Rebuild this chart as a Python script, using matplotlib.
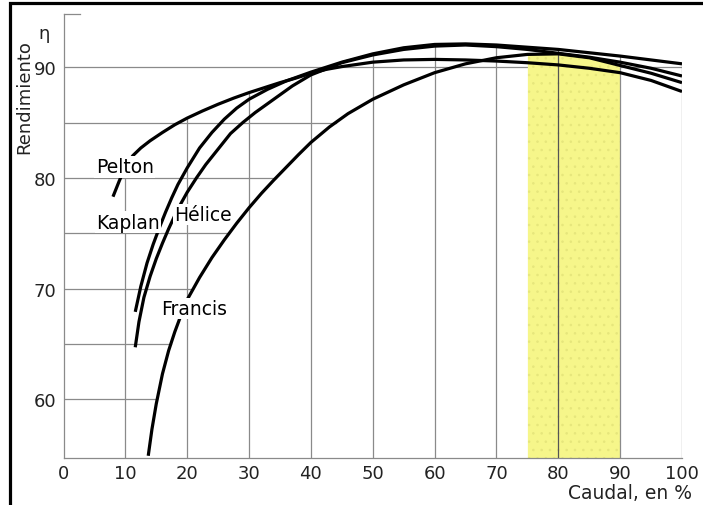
import numpy as np
import matplotlib
matplotlib.use("Agg")
import matplotlib.pyplot as plt
from matplotlib.patches import Rectangle

# Rendimiento (%) frente a caudal (%) de cada tipo de turbina
pelton_x = [8.0, 9.0, 10, 11.2, 12.5, 14, 16, 18, 20, 22.5, 25, 27.5, 30, 32.5, 35, 37.5, 40,
            42.5, 45, 50, 55, 60, 65, 70, 75, 80, 85, 90, 95, 100]
pelton_y = [78.3, 79.7, 81.0, 82.0, 82.7, 83.35, 84.1, 84.8, 85.4, 86.05, 86.65, 87.2, 87.7, 88.15,
            88.6, 89.0, 89.45, 89.8, 90.05, 90.45, 90.65, 90.7, 90.65, 90.55, 90.4, 90.2, 89.9,
            89.5, 88.8, 87.8]

kaplan_x = [11.6, 12.5, 13.5, 14.5, 15.5, 16.5, 17.5, 18.5, 20, 22, 24, 26, 28, 30, 33, 36, 40,
            45, 50, 55, 60, 65, 70, 75, 80, 85, 90, 95, 100]
kaplan_y = [67.9, 70.2, 72.3, 74.0, 75.5, 76.9, 78.2, 79.4, 80.9, 82.7, 84.1, 85.3, 86.3, 87.1,
            88.0, 88.75, 89.55, 90.45, 91.2, 91.75, 92.05, 92.1, 92.0, 91.8, 91.6, 91.3, 91.0,
            90.65, 90.3]

helice_x = [11.6, 12.2, 13, 14, 15, 16, 17, 18, 19, 20, 21.5, 23, 25, 27, 29, 31, 34, 37, 40,
            45, 50, 55, 60, 65, 70, 75, 80, 85, 90, 95, 100]
helice_y = [64.7, 67.0, 69.2, 71.1, 72.7, 74.1, 75.4, 76.6, 77.7, 78.7, 80.0, 81.2, 82.6, 84.0,
            85.0, 85.9, 87.1, 88.3, 89.3, 90.4, 91.1, 91.6, 91.9, 92.0, 91.85, 91.6, 91.25, 90.9,
            90.45, 89.9, 89.2]

francis_x = [13.7, 14.3, 15, 16, 17, 18, 19, 20, 22, 24, 26, 28, 30, 32, 34, 36, 38, 40, 43, 46,
             50, 55, 60, 65, 70, 75, 80, 85, 90, 95, 100]
francis_y = [54.9, 57.3, 59.6, 62.3, 64.4, 66.1, 67.6, 69.0, 71.0, 72.8, 74.4, 75.9, 77.3, 78.6,
             79.8, 80.95, 82.1, 83.2, 84.6, 85.8, 87.1, 88.4, 89.5, 90.3, 90.85, 91.15, 91.2,
             90.85, 90.15, 89.45, 88.6]

curves = {
    "Pelton": (pelton_x, pelton_y),
    "Kaplan": (kaplan_x, kaplan_y),
    "Hélice": (helice_x, helice_y),
    "Francis": (francis_x, francis_y),
}
# posicion de las etiquetas (x %, rendimiento)
label_pos = {
    "Pelton": (9.9, 81.0),
    "Kaplan": (10.4, 76.0),
    "Hélice": (22.6, 76.7),
    "Francis": (21.1, 68.2),
}

x_ticks = list(range(0, 101, 10))
y_ticks = [60, 70, 80, 90]
h_grid = [60, 65, 70, 75, 80, 85]
zona = (75, 90)

ymin, ymax = 54.7, 94.8
gris = "#8a8a8a"

fig = plt.figure(figsize=(7.03, 5.06), dpi=100)
ax = fig.add_axes([63.5 / 703, 1 - 459 / 506, (682 - 63.5) / 703, (459 - 15) / 506])
ax.set_xlim(0, 100)
ax.set_ylim(ymin, ymax)

# zona sombreada amarilla hasta la curva Francis
fx = np.array(francis_x)
fy = np.array(francis_y)
sel = (fx >= zona[0]) & (fx <= zona[1])
plt.rcParams["hatch.linewidth"] = 0.6
ax.fill_between(fx[sel], ymin, fy[sel], color="#f6f68a", lw=0, zorder=2)
ax.fill_between(fx[sel], ymin, fy[sel], facecolor="none", edgecolor="#e6e67c",
                hatch="..", lw=0, zorder=2)

# linea de 90 a todo lo ancho
ax.plot([0, 100], [90, 90], color=gris, lw=0.9, zorder=1)

# lineas horizontales hasta la curva Francis
rise = fy <= 89
for lev in h_grid:
    xe = np.interp(lev, fy[rise], fx[rise])
    ax.plot([0, xe], [lev, lev], color=gris, lw=0.9, zorder=3)

# lineas verticales hasta la envolvente superior
for xv in x_ticks[1:]:
    tops = [np.interp(xv, cx, cy) for cx, cy in curves.values() if cx[0] <= xv <= cx[-1]]
    col = "#555555" if zona[0] < xv < zona[1] else gris
    ax.plot([xv, xv], [ymin, max(tops)], color=col, lw=0.9, zorder=3)

for name, (cx, cy) in curves.items():
    ax.plot(cx, cy, color="black", lw=2.3, solid_capstyle="butt",
            solid_joinstyle="round", zorder=4)
    lx, ly = label_pos[name]
    ax.text(lx, ly, name, fontsize=13.5, ha="center", va="center", zorder=5,
            bbox=dict(facecolor="white", edgecolor="none", pad=1.0))

# ejes
for s in ["top", "right"]:
    ax.spines[s].set_visible(False)
for s in ["left", "bottom"]:
    ax.spines[s].set_color(gris)
    ax.spines[s].set_linewidth(0.9)
ax.plot([0, 2.7], [ymax, ymax], color=gris, lw=0.9, clip_on=False)

ax.set_xticks(x_ticks)
ax.set_yticks(y_ticks)
ax.tick_params(length=0, labelsize=13, colors="#222222")
ax.tick_params(axis="x", pad=4)
ax.tick_params(axis="y", pad=5)

ax.text(-6.4, 87.4, "Rendimiento", rotation=90, fontsize=13, ha="center", va="center",
        color="#222222", clip_on=False)
ax.text(-3.2, 93.1, "η", fontsize=13, ha="center", va="center", color="#222222", clip_on=False)
ax.text(101.6, 51.6, "Caudal, en %", fontsize=13.5, ha="right", va="center",
        color="#222222", clip_on=False)

# marco de la imagen
fig.add_artist(Rectangle((10 / 703, -0.1), 1.2, 1.1 - 4 / 506, transform=fig.transFigure,
                         facecolor="none", edgecolor="black", lw=2.3))

fig.savefig("out.png", dpi=100)
